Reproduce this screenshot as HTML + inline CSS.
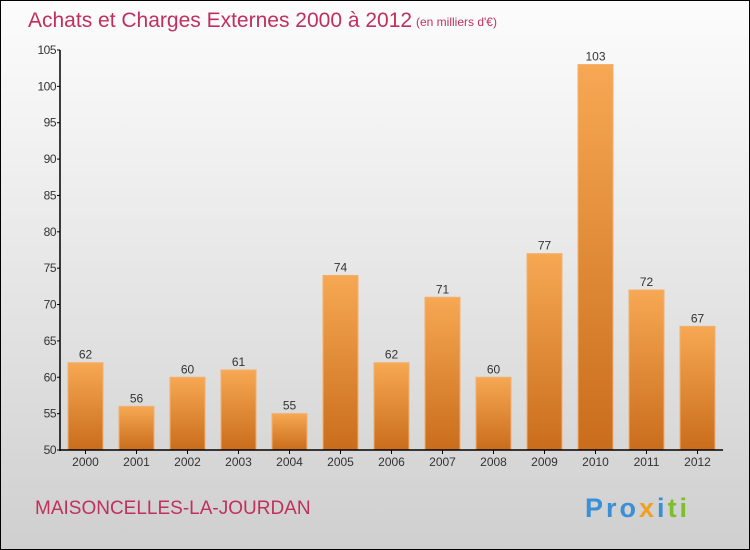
<!DOCTYPE html>
<html><head><meta charset="utf-8"><style>
body{margin:0;}
#c{width:748px;height:548px;border:1px solid #000;background:linear-gradient(#fcfcfc,#f4f4f4 20%,#cfcfcf);position:relative;overflow:hidden;font-family:"Liberation Sans",sans-serif;}
</style></head><body>
<div id="c">
<svg width="748" height="548" id="s">
<defs><linearGradient id="g" x1="0" y1="0" x2="0" y2="1"><stop offset="0" stop-color="#f7a853"/><stop offset="1" stop-color="#c96d1c"/></linearGradient></defs>
<text x="27" y="26" font-size="21" fill="#c0305e">Achats et Charges Externes 2000 à 2012</text>
<text x="415" y="25" font-size="12" fill="#c0305e">(en milliers d'€)</text>
<text x="34" y="513" font-size="19" fill="#c0305e">MAISONCELLES-LA-JOURDAN</text>
<text x="584" y="516" font-size="27" font-weight="bold" letter-spacing="3"><tspan fill="#3a8fd6">Pro</tspan><tspan fill="#f0a020">x</tspan><tspan fill="#3a8fd6">i</tspan><tspan fill="#7cbf2a">ti</tspan></text>
<g id="plot"></g>
</svg></div>
<script>
const years=["2000","2001","2002","2003","2004","2005","2006","2007","2008","2009","2010","2011","2012"];
const values=[62,56,60,61,55,74,62,71,60,77,103,72,67];
const yTicks=[50,55,60,65,70,75,80,85,90,95,100,105];
const NS="http://www.w3.org/2000/svg",p=document.getElementById('plot');
const x0=59,x1=722,yb=449,yt=49,vmin=50,vmax=105;
const Y=v=>yb-(v-vmin)/(vmax-vmin)*(yb-yt);
const slot=(x1-x0)/years.length;
const X=i=>x0+slot*(i+0.5);
function mk(t,a,txt){const e=document.createElementNS(NS,t);for(const k in a)e.setAttribute(k,a[k]);if(txt!==undefined)e.textContent=txt;p.appendChild(e);return e;}
years.forEach((yr,i)=>{
 const v=values[i],cx=X(i),w=35;
 const r=mk('rect',{x:cx-w/2,y:Y(v),width:w,height:yb-Y(v),fill:'url(#g)',stroke:'#f2b070','stroke-width':1});
 
 
 const t=mk('text',{x:cx,y:Y(v)-4,'font-size':12,fill:'#333','text-anchor':'middle'},String(v));
 
 
 const tk=mk('line',{x1:cx,x2:cx,y1:yb,y2:yb+4,stroke:'#000'});
 
 
 const l=mk('text',{x:cx,y:yb+16,'font-size':12,fill:'#333','text-anchor':'middle'},yr);
 
 
});
yTicks.forEach(v=>{
 const tk=mk('line',{x1:x0-3,x2:x0,y1:Y(v),y2:Y(v),stroke:'#000'});
 
 
 const l=mk('text',{x:x0-4,y:Y(v)+4,'font-size':12,fill:'#333','text-anchor':'end','letter-spacing':'-0.5'},String(v));
 
 
});
const ya=mk('line',{x1:x0,x2:x0,y1:yt,y2:yb+1,stroke:'#000','stroke-width':1.5});


const xa=mk('line',{x1:x0,x2:x1,y1:yb,y2:yb,stroke:'#000','stroke-width':1.5});


</script>
</body></html>
